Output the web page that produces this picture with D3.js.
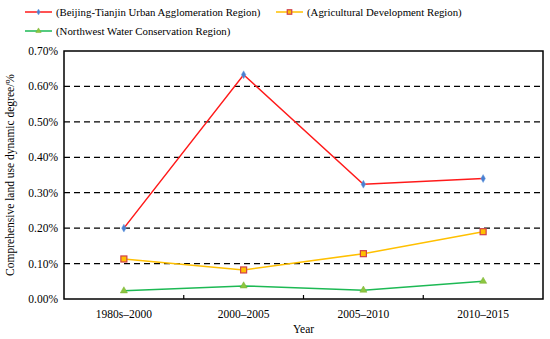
<!DOCTYPE html>
<html>
<head>
<meta charset="utf-8">
<script src="https://cdn.jsdelivr.net/npm/d3@7"></script>
<style>
  body { margin: 0; background: #fff; }
  svg { font-family: "Liberation Serif", "Times New Roman", serif; }
</style>
</head>
<body>
<div id="chart"></div>
<script>
const periods = ['1980s–2000', '2000–2005', '2005–2010', '2010–2015'];
const beijingTianjin = [0.200, 0.633, 0.324, 0.340];
const agricultural = [0.113, 0.082, 0.128, 0.190];
const northwestWater = [0.023, 0.037, 0.025, 0.050];
const yTicks = [0, 0.1, 0.2, 0.3, 0.4, 0.5, 0.6, 0.7];

const series = [
    { name: '(Beijing-Tianjin Urban Agglomeration Region)', values: beijingTianjin, line: '#ff1a1a', marker: 'diamond' },
    { name: '(Agricultural Development Region)', values: agricultural, line: '#ffc000', marker: 'square' },
    { name: '(Northwest Water Conservation Region)', values: northwestWater, line: '#1db954', marker: 'triangle' }
];

const width = 550, height = 339;
const margin = { top: 51, right: 7, bottom: 40, left: 64 };
const innerW = width - margin.left - margin.right;
const innerH = height - margin.top - margin.bottom;

const svg = d3.select('#chart').append('svg')
    .attr('width', width)
    .attr('height', height);

const g = svg.append('g').attr('transform', `translate(${margin.left},${margin.top})`);

const x = d3.scaleBand().domain(periods).range([0, innerW]);
const y = d3.scaleLinear().domain([0, 0.7]).range([innerH, 0]);

// dashed grid
g.selectAll('.grid')
    .data(yTicks.filter(t => t > 0 && t < 0.7))
    .enter().append('line')
    .attr('x1', 0).attr('x2', innerW)
    .attr('y1', d => y(d)).attr('y2', d => y(d))
    .attr('stroke', '#000')
    .attr('stroke-width', 1.2)
    .attr('stroke-dasharray', '6,4');

// y tick labels
g.selectAll('.ylab')
    .data(yTicks)
    .enter().append('text')
    .attr('x', -6)
    .attr('y', d => y(d))
    .attr('dy', '0.35em')
    .attr('text-anchor', 'end')
    .attr('font-size', 11.5)
    .text(d => d.toFixed(2) + '%');

// x ticks (inside, at band boundaries)
g.selectAll('.xtick')
    .data(periods.slice(1))
    .enter().append('line')
    .attr('x1', d => x(d)).attr('x2', d => x(d))
    .attr('y1', innerH).attr('y2', innerH - 4)
    .attr('stroke', '#000')
    .attr('stroke-width', 1.2);

g.selectAll('.xlab')
    .data(periods)
    .enter().append('text')
    .attr('x', d => x(d) + x.bandwidth() / 2)
    .attr('y', innerH + 19)
    .attr('text-anchor', 'middle')
    .attr('font-size', 11.5)
    .text(d => d);

// frame
g.append('rect')
    .attr('width', innerW).attr('height', innerH)
    .attr('fill', 'none')
    .attr('stroke', '#000')
    .attr('stroke-width', 1.5);

// axis titles
svg.append('text')
    .attr('x', margin.left + innerW / 2)
    .attr('y', 333)
    .attr('text-anchor', 'middle')
    .attr('font-size', 11.5)
    .text('Year');

svg.append('text')
    .attr('transform', `translate(14,${margin.top + innerH / 2}) rotate(-90)`)
    .attr('text-anchor', 'middle')
    .attr('font-size', 11.5)
    .text('Comprehensive land use dynamic degree/%');

const line = d3.line()
    .x((d, i) => x(periods[i]) + x.bandwidth() / 2)
    .y(d => y(d));

function drawMarker(sel, type, k) {
    if (type === 'diamond') {
        sel.append('path')
            .attr('d', d3.symbol(d3.symbolDiamond, 18 * k * k)())
            .attr('fill', '#4a7fd0')
            .attr('stroke', '#6fa0e0')
            .attr('stroke-width', 0.5);
    } else if (type === 'square') {
        const s = 6 * k;
        sel.append('rect')
            .attr('x', -s / 2).attr('y', -s / 2)
            .attr('width', s).attr('height', s)
            .attr('fill', '#ffc000')
            .attr('stroke', '#d0404a')
            .attr('stroke-width', 1.2);
    } else {
        sel.append('path')
            .attr('d', d3.symbol(d3.symbolTriangle, 22 * k * k)())
            .attr('fill', '#8cc640')
            .attr('stroke', '#7ab030')
            .attr('stroke-width', 0.5);
    }
}

series.forEach(s => {
    g.append('path')
        .datum(s.values)
        .attr('fill', 'none')
        .attr('stroke', s.line)
        .attr('stroke-width', 1.5)
        .attr('d', line);

    g.selectAll(null)
        .data(s.values)
        .enter().append('g')
        .attr('transform', (d, i) => `translate(${x(periods[i]) + x.bandwidth() / 2},${y(d)})`)
        .each(function () { drawMarker(d3.select(this), s.marker, 1); });
});

// legend
const legendPos = [
    { x: 25, y: 12 },
    { x: 276, y: 12 },
    { x: 25, y: 31 }
];

series.forEach((s, i) => {
    const lg = svg.append('g').attr('transform', `translate(${legendPos[i].x},${legendPos[i].y})`);
    lg.append('line')
        .attr('x1', 0).attr('x2', 27)
        .attr('y1', 0).attr('y2', 0)
        .attr('stroke', s.line)
        .attr('stroke-width', 1.5);
    const m = lg.append('g').attr('transform', 'translate(13.5,0)');
    drawMarker(m, s.marker, 0.75);
    lg.append('text')
        .attr('x', 31)
        .attr('y', 0)
        .attr('dy', '0.35em')
        .attr('font-size', 10.8)
        .text(s.name);
});
</script>
</body>
</html>
